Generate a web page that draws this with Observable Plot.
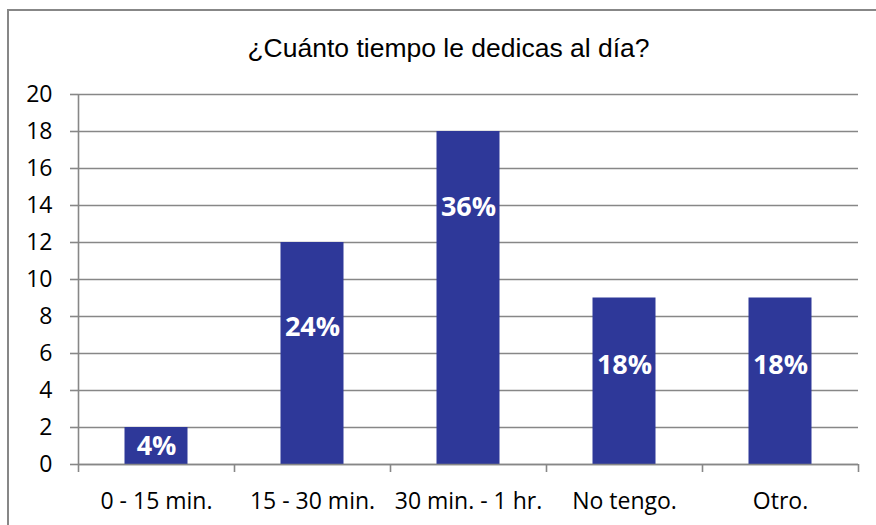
<!DOCTYPE html>
<html>
<head>
<meta charset="utf-8">
<script src="https://cdn.jsdelivr.net/npm/d3@7"></script>
<script src="https://cdn.jsdelivr.net/npm/@observablehq/plot@0.6"></script>
<style>
  html, body { margin: 0; padding: 0; background: #fff; }
  #wrap { position: relative; width: 876px; height: 525px; overflow: hidden; background: #fff; }
  #border { position: absolute; left: 7px; top: 9px; width: 900px; height: 600px; border: 2px solid #878787; box-sizing: border-box; }
  #title { position: absolute; left: 0; width: 897px; top: 33px; text-align: center; line-height: 30px;
           font-family: "Liberation Sans", Arial, sans-serif; font-size: 26.5px; color: #000; white-space: nowrap; }
  #chart { position: absolute; left: 0; top: 0; }
</style>
</head>
<body>
<div id="wrap">
  <div id="border"></div>
  <div id="chart"></div>
  <div id="title">¿Cuánto tiempo le dedicas al día?</div>
</div>
<script>
const categories = ["0 - 15 min.", "15 - 30 min.", "30 min. - 1 hr.", "No tengo.", "Otro."];
const counts = [2, 12, 18, 9, 9];
const percentLabels = ["4%", "24%", "36%", "18%", "18%"];
const labelY = [1, 7.4, 13.9, 5.35, 5.35];
const yTicks = [0, 2, 4, 6, 8, 10, 12, 14, 16, 18, 20];

const data = categories.map((c, i) => ({cat: c, n: counts[i], pct: percentLabels[i], ly: labelY[i]}));

const W = 876, H = 525;
const mL = 78, mR = 18, mT = 94, mB = 61;
const band = (W - mL - mR) / categories.length;
const barW = 63;
const grid = "#878787";
const font = "'Open Sans', Carlito, Calibri, sans-serif";

const chart = Plot.plot({
  width: W,
  height: H,
  marginLeft: mL,
  marginRight: mR,
  marginTop: mT,
  marginBottom: mB,
  style: {fontFamily: font, fontSize: "23px", color: "#000", background: "transparent", overflow: "visible"},
  x: {domain: categories, padding: 0, label: null},
  y: {domain: [0, 20], label: null},
  marks: [
    Plot.gridY(yTicks, {stroke: grid, strokeOpacity: 1, strokeWidth: 1.6}),
    Plot.barY(data, {x: "cat", y: "n", fill: "#2E3899", insetLeft: (band - barW) / 2, insetRight: (band - barW) / 2}),
    Plot.ruleY([0], {stroke: grid, strokeWidth: 1.6}),
    Plot.ruleX([categories[0]], {dx: -band / 2, y1: 0, y2: 20, stroke: grid, strokeWidth: 1.6}),
    Plot.axisY({ticks: yTicks, tickSize: 8, tickPadding: 18, stroke: grid, strokeWidth: 1.6, strokeOpacity: 1, fontSize: 23, label: null, color: "#000"}),
    Plot.axisX({tickSize: 8, tickFormat: () => "", dx: -band / 2, stroke: grid, strokeWidth: 1.6, strokeOpacity: 1, label: null}),
    Plot.axisX({ticks: [categories[categories.length - 1]], tickSize: 8, tickFormat: () => "", dx: band / 2, stroke: grid, strokeWidth: 1.6, strokeOpacity: 1, label: null}),
    Plot.axisX({tickSize: 0, tickPadding: 28, fontSize: 23, label: null}),
    Plot.text(data, {x: "cat", y: "ly", text: "pct", fill: "#fff", fontWeight: "bold", fontSize: 27})
  ]
});
document.getElementById("chart").appendChild(chart);
</script>
</body>
</html>
